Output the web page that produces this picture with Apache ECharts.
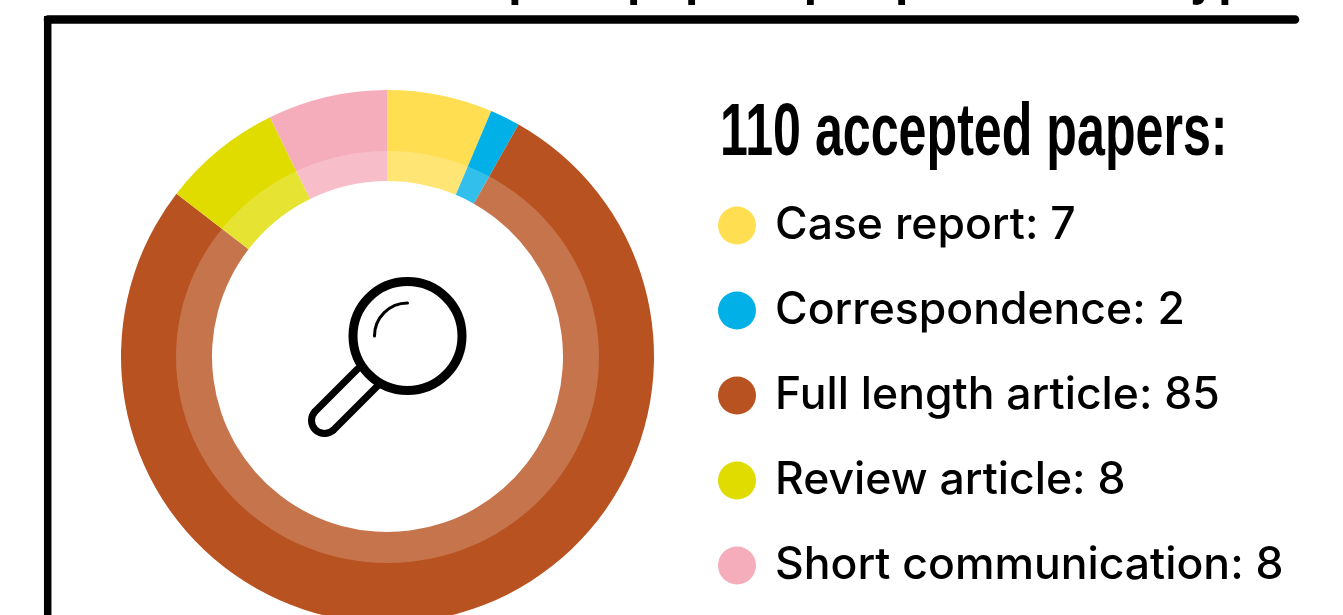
<!DOCTYPE html>
<html>
<head>
<meta charset="utf-8">
<title>Accepted papers per publication type</title>
<style>
    html, body { margin: 0; padding: 0; background: #fff; }
    #chart { width: 1343px; height: 615px; overflow: hidden; }
</style>
<script src="https://cdn.jsdelivr.net/npm/echarts@6/dist/echarts.min.js"></script>
</head>
<body>
<div id="chart"></div>
<script>
var titleText = "Accepted papers per publication type";
var totalText = "110 accepted papers:";
var categories = ["Case report", "Correspondence", "Full length article", "Review article", "Short communication"];
var paperCounts = [7, 2, 85, 8, 8];
var sliceColors = ["#ffdf51", "#00b0e6", "#b85220", "#e0dc00", "#f5adbb"];

var headFont = "'Liberation Sans Narrow', 'Liberation Sans', sans-serif";
var bodyFont = "Inter, Roboto, sans-serif";

var chart = echarts.init(document.getElementById("chart"), null, { renderer: "canvas" });

var option = {
    animation: false,
    backgroundColor: "#fff",
    color: sliceColors,
    legend: {
        orient: "vertical",
        left: 718,
        top: 203,
        height: 420,
        icon: "circle",
        itemWidth: 38,
        itemHeight: 38,
        itemGap: 40,
        padding: 0,
        selectedMode: false,
        data: categories,
        formatter: function (name) {
            return name + ": " + paperCounts[categories.indexOf(name)];
        },
        textStyle: {
            color: "#000",
            fontFamily: bodyFont,
            fontWeight: 500,
            fontSize: 44.5,
            lineHeight: 38,
            padding: [0, 0, 0, 14],
        },
    },
    series: [
        {
            type: "pie",
            center: [387.5, 356.5],
            radius: [175.5, 266.5],
            startAngle: 90,
            clockwise: true,
            silent: true,
            label: { show: false },
            labelLine: { show: false },
            data: categories.map(function (name, i) {
                return { name: name, value: paperCounts[i] };
            }),
        },
    ],
    graphic: [
        //内圈的半透明白环，中间的洞本来就是白色
        {
            type: "ellipse",
            z: 10,
            silent: true,
            shape: { cx: 387.5, cy: 357, rx: 211.5, ry: 206 },
            style: { fill: "rgba(255,255,255,0.2)" },
        },
        //放大镜
        {
            type: "circle",
            z: 11,
            silent: true,
            shape: { cx: 407.5, cy: 336, r: 54.5 },
            style: { fill: "none", stroke: "#000", lineWidth: 9 },
        },
        {
            type: "arc",
            z: 11,
            silent: true,
            shape: { cx: 407.5, cy: 336, r: 33, startAngle: Math.PI, endAngle: Math.PI * 1.5, clockwise: true },
            style: { fill: "none", stroke: "#000", lineWidth: 3, lineCap: "round" },
        },
        {
            type: "line",
            z: 11,
            silent: true,
            shape: { x1: 357.3, y1: 369.3, x2: 315.3, y2: 411.3 },
            style: { stroke: "#000", lineWidth: 7, lineCap: "round" },
        },
        {
            type: "arc",
            z: 11,
            silent: true,
            shape: { cx: 324.5, cy: 420.5, r: 13, startAngle: Math.PI * 0.25, endAngle: Math.PI * 1.25, clockwise: true },
            style: { fill: "none", stroke: "#000", lineWidth: 7 },
        },
        {
            type: "line",
            z: 11,
            silent: true,
            shape: { x1: 333.7, y1: 429.7, x2: 377.7, y2: 385.7 },
            style: { stroke: "#000", lineWidth: 7, lineCap: "round" },
        },
        //外框
        {
            type: "line",
            z: 11,
            silent: true,
            shape: { x1: 48, y1: 19.5, x2: 1295, y2: 19.5 },
            style: { stroke: "#000", lineWidth: 8.5, lineCap: "round" },
        },
        {
            type: "line",
            z: 11,
            silent: true,
            shape: { x1: 47.7, y1: 16, x2: 47.7, y2: 620 },
            style: { stroke: "#000", lineWidth: 7.5 },
        },
        //标题，只露出下伸部分
        {
            type: "text",
            z: 11,
            silent: true,
            x: 389,
            y: 7,
            scaleX: 0.672,
            style: {
                text: titleText,
                fill: "#000",
                font: "bold 74px " + headFont,
                verticalAlign: "bottom",
            },
        },
        {
            type: "text",
            z: 11,
            silent: true,
            x: 720,
            y: 172,
            scaleX: 0.678,
            style: {
                text: totalText,
                fill: "#000",
                font: "bold 74px " + headFont,
                verticalAlign: "bottom",
            },
        },
    ],
};

chart.setOption(option);
</script>
</body>
</html>
